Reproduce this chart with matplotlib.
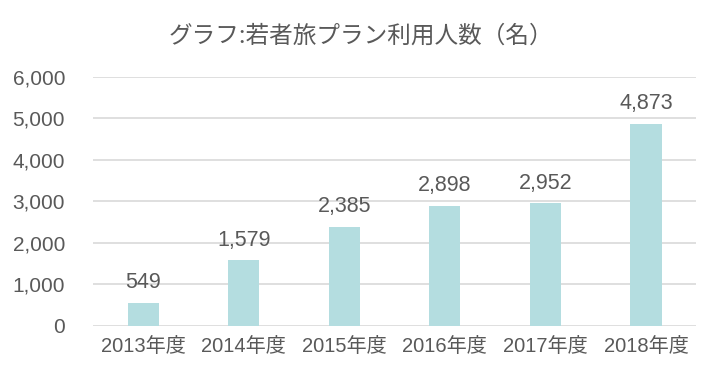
import matplotlib
matplotlib.use('Agg')
import matplotlib.pyplot as plt

years = ['2013年度', '2014年度', '2015年度', '2016年度', '2017年度', '2018年度']
users = [549, 1579, 2385, 2898, 2952, 4873]
yticks = [0, 1000, 2000, 3000, 4000, 5000, 6000]

plt.rcParams['font.family'] = ['Liberation Sans', 'Noto Sans CJK JP']
txt = '#595959'

fig = plt.figure(figsize=(7.2, 3.79), dpi=100)
ax = fig.add_axes([0.129, 0.140, 0.838, 0.657])

x = range(len(years))
ax.bar(x, users, width=0.31, color='#b4dde0', zorder=3)
for i, v in zip(x, users):
    ax.annotate(f'{v:,}', (i, v), xytext=(0, 7), textcoords='offset points',
                ha='center', va='bottom', fontsize=15.5, color=txt)

ax.set_xlim(-0.5, len(years) - 0.5)
ax.set_ylim(0, 6000)
ax.set_yticks(yticks)
ax.set_yticklabels([f'{t:,}' for t in yticks], fontsize=15, color=txt)
ax.set_xticks(list(x))
ax.set_xticklabels(years, fontsize=14.5, color=txt)
ax.tick_params(length=0, pad=8)
ax.tick_params(axis='y', pad=20)
ax.grid(axis='y', color='#d9d9d9', linewidth=1.2, zorder=0)
for s in ax.spines.values():
    s.set_visible(False)

fig.text(0.501, 0.905, 'グラフ:若者旅プラン利用人数（名）', ha='center', va='center',
         fontsize=17, color=txt, family=['Noto Sans CJK JP', 'DejaVu Sans'])

fig.savefig('out.png', dpi=100)
